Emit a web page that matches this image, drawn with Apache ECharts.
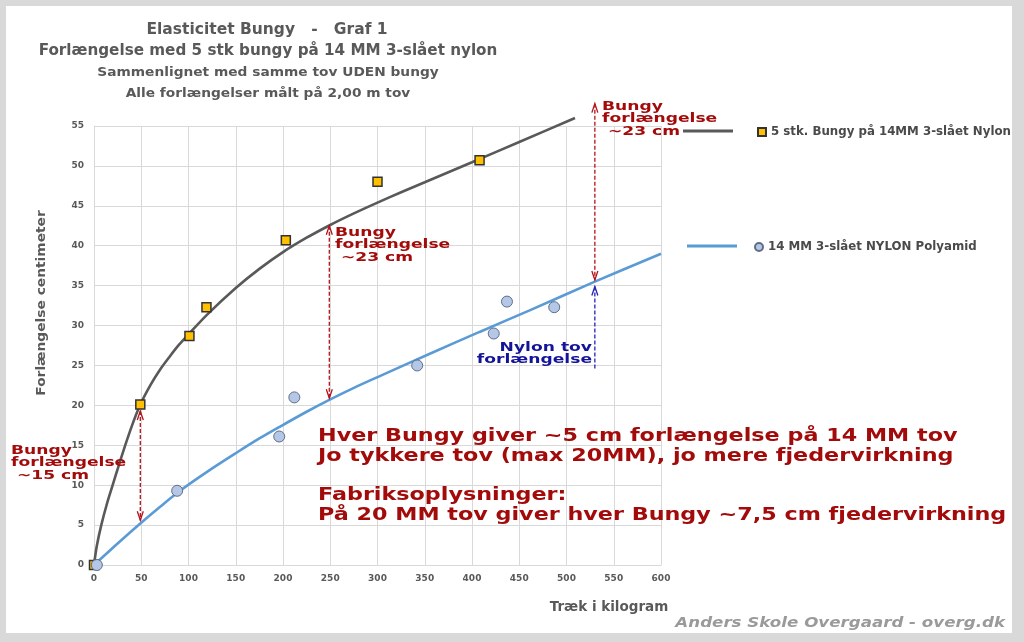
<!DOCTYPE html>
<html>
<head>
<meta charset="utf-8">
<script src="https://cdn.jsdelivr.net/npm/echarts@6/dist/echarts.min.js"></script>
<style>
html,body{margin:0;padding:0;background:#d9d9d9;}
#chart{width:1024px;height:642px;}
</style>
</head>
<body>
<div id="chart"></div>
<script>
// ---- Data ----
const bungyName = '5 stk. Bungy på 14MM 3-slået Nylon';
const nylonName = '14 MM 3-slået NYLON Polyamid';

// measured points [kg, cm]
const bungyPoints = [[0, 0], [49, 20.1], [101, 28.7], [119, 32.3], [203, 40.7], [300, 48.0], [408, 50.7]];
const nylonPoints = [[3, 0], [88, 9.3], [196, 16.1], [212, 21.0], [342, 25.0], [423, 29.0], [437, 33.0], [487, 32.3]];

// trend curves [kg, cm]
const bungyTrend = [[0, 0], [3, 2.4], [7.7, 5], [14, 7.8], [20, 10.1], [26, 12.4], [32.5, 14.8], [40, 17.4], [49, 20.1], [60, 22.6], [70, 24.5], [80, 26.1], [90, 27.6], [100, 28.9], [120, 31.4], [150, 34.7], [175, 37.1], [200, 39.2], [225, 41.0], [250, 42.6], [275, 44.05], [300, 45.4], [325, 46.7], [350, 47.95], [375, 49.2], [400, 50.45], [450, 53.0], [509, 56.0]];
const nylonTrend = [[0, 0], [25, 2.7], [49, 5.2], [70, 7.3], [91, 9.3], [120, 11.7], [150, 14.0], [175, 15.85], [197, 17.35], [225, 19.2], [250, 20.75], [275, 22.2], [303, 23.7], [356, 26.5], [408, 29.2], [461, 31.9], [530, 35.5], [600, 39.0]];

// annotation arrows: [kg, top cm, bottom cm, colour index (0 red, 1 blue), heads (3 both, 1 top only)]
const arrows = [[49, 19.3, 5.6, 0, 3], [249, 42.5, 20.9, 0, 3], [530, 57.8, 35.7, 0, 3], [530, 34.9, 24.4, 1, 1]];

// texts
const titleLines = ['Elasticitet Bungy   -   Graf 1', 'Forlængelse med 5 stk bungy på 14 MM 3-slået nylon', 'Sammenlignet med samme tov UDEN bungy', 'Alle forlængelser målt på 2,00 m tov'];
const noteLines = 'Hver Bungy giver ~5 cm forlængelse på 14 MM tov\nJo tykkere tov (max 20MM), jo mere fjedervirkning\n\nFabriksoplysninger:\nPå 20 MM tov giver hver Bungy ~7,5 cm fjedervirkning';
const label15 = 'Bungy\nforlængelse\n ~15 cm';
const label23 = 'Bungy\nforlængelse\n ~23 cm';
const labelNylon = 'Nylon tov\nforlængelse';
const xTitle = 'Træk i kilogram';
const yTitle = 'Forlængelse centimeter';
const credit = 'Anders Skole Overgaard - overg.dk';

// ---- Chart ----
const chart = echarts.init(document.getElementById('chart'), null, {renderer: 'canvas'});
const DJ = "'DejaVu Sans', sans-serif";
const RED = '#a30b0b';
const BLUE = '#14149a';
const GREY = '#595959';

function txt(text, x, y, opt) {
  return Object.assign({
    type: 'text', x: x, y: y, z: 50,
    style: Object.assign({text: text, fill: GREY, font: 'bold 13px ' + DJ, textAlign: 'left', textVerticalAlign: 'middle'}, opt.style || {})
  }, opt.el || {});
}

const graphics = [
  {type: 'rect', z: -10, shape: {x: 6, y: 6, width: 1006, height: 627}, style: {fill: '#ffffff'}},
  txt(titleLines[0], 267, 30, {style: {font: 'bold 15.5px ' + DJ, textAlign: 'center'}}),
  txt(titleLines[1], 268, 51, {style: {font: 'bold 15.2px ' + DJ, textAlign: 'center'}}),
  txt(titleLines[2], 268, 73, {style: {font: 'bold 12.5px ' + DJ, textAlign: 'center'}, el: {scaleX: 1.1}}),
  txt(titleLines[3], 268, 94, {style: {font: 'bold 12.5px ' + DJ, textAlign: 'center'}, el: {scaleX: 1.1}}),
  txt(xTitle, 609, 607, {style: {font: 'bold 13.5px ' + DJ, textAlign: 'center'}}),
  txt(yTitle, 42, 303, {style: {font: 'bold 13px ' + DJ, textAlign: 'center'}, el: {rotation: Math.PI / 2, scaleX: 1.06}}),
  txt(credit, 1005, 623, {style: {font: 'italic bold 14.5px ' + DJ, textAlign: 'right', fill: '#9a9a9a'}, el: {scaleX: 1.15}}),
  txt(noteLines, 318, 427, {style: {font: 'bold 17px ' + DJ, fill: RED, textVerticalAlign: 'top', lineHeight: 19.7}, el: {scaleX: 1.31}}),
  txt(label15, 11, 444, {style: {font: 'bold 12.5px ' + DJ, fill: RED, textVerticalAlign: 'top', lineHeight: 12.8}, el: {scaleX: 1.37}}),
  txt(label23, 335, 226, {style: {font: 'bold 12.5px ' + DJ, fill: RED, textVerticalAlign: 'top', lineHeight: 12.5}, el: {scaleX: 1.37}}),
  txt(label23, 602, 100, {style: {font: 'bold 12.5px ' + DJ, fill: RED, textVerticalAlign: 'top', lineHeight: 12.6}, el: {scaleX: 1.37}}),
  txt(labelNylon, 592, 341, {style: {font: 'bold 12.5px ' + DJ, fill: BLUE, textAlign: 'right', textVerticalAlign: 'top', lineHeight: 12.6}, el: {scaleX: 1.37}}),
  {type: 'line', z: 50, shape: {x1: 683, y1: 131, x2: 733, y2: 131}, style: {stroke: GREY, lineWidth: 3}},
  {type: 'line', z: 50, shape: {x1: 687, y1: 246, x2: 737, y2: 246}, style: {stroke: '#5b9bd5', lineWidth: 3}}
];

const option = {
  backgroundColor: '#d9d9d9',
  animation: false,
  grid: {left: 94, right: 363, top: 126, bottom: 77, containLabel: false},
  xAxis: {
    type: 'value', min: 0, max: 600, interval: 50,
    axisLine: {show: true, lineStyle: {color: '#d9d9d9', width: 1}},
    axisTick: {show: false},
    splitLine: {show: true, lineStyle: {color: '#d9d9d9', width: 1}},
    axisLabel: {color: GREY, fontFamily: 'DejaVu Sans', fontWeight: 'bold', fontSize: 9, margin: 9}
  },
  yAxis: {
    type: 'value', min: 0, max: 55, interval: 5,
    axisLine: {show: true, lineStyle: {color: '#d9d9d9', width: 1}},
    axisTick: {show: false},
    splitLine: {show: true, lineStyle: {color: '#d9d9d9', width: 1}},
    axisLabel: {color: GREY, fontFamily: 'DejaVu Sans', fontWeight: 'bold', fontSize: 9, margin: 10}
  },
  legend: [
    {data: [bungyName], left: 757, top: 126, padding: 0, icon: 'rect', itemWidth: 8, itemHeight: 8, itemGap: 0,
     textStyle: {color: '#4a4a4a', fontFamily: 'DejaVu Sans', fontWeight: 'bold', fontSize: 11.8}, selectedMode: false},
    {data: [nylonName], left: 754, top: 241, padding: 0, icon: 'circle', itemWidth: 8, itemHeight: 8, itemGap: 0,
     textStyle: {color: '#4a4a4a', fontFamily: 'DejaVu Sans', fontWeight: 'bold', fontSize: 11.8}, selectedMode: false}
  ],
  graphic: graphics,
  series: [
    {name: 'bungyTrend', type: 'line', data: bungyTrend, smooth: 0.3, showSymbol: false, clip: false, silent: true,
     lineStyle: {color: GREY, width: 2.6}, z: 2},
    {name: 'nylonTrend', type: 'line', data: nylonTrend, smooth: 0.3, showSymbol: false, clip: false, silent: true,
     lineStyle: {color: '#5b9bd5', width: 2.6}, z: 2},
    {name: bungyName, type: 'scatter', data: bungyPoints, symbol: 'rect', symbolSize: 9, clip: false, z: 4,
     itemStyle: {color: '#ffc000', borderColor: '#333333', borderWidth: 1.5, opacity: 1}},
    {name: nylonName, type: 'scatter', data: nylonPoints, symbol: 'circle', symbolSize: 11, clip: false, z: 4,
     itemStyle: {color: '#b4c7e7', borderColor: '#5e6e86', borderWidth: 1, opacity: 1}},
    {name: 'arrows', type: 'custom', data: arrows, clip: false, silent: true, z: 5,
     encode: {x: 0, y: [1, 2]},
     renderItem: function (params, api) {
       const x = api.value(0), top = api.value(1), bot = api.value(2), c = api.value(3), heads = api.value(4);
       const p1 = api.coord([x, top]), p2 = api.coord([x, bot]);
       const col = c === 0 ? '#b3131b' : '#2222b8';
       const hw = 3, hl = 9;
       const children = [
         {type: 'line', shape: {x1: p1[0], y1: p1[1], x2: p2[0], y2: p2[1]}, style: {stroke: col, lineWidth: 1.3, lineDash: [4, 2]}},
         {type: 'polyline', shape: {points: [[p1[0] - hw, p1[1] + hl], [p1[0], p1[1]], [p1[0] + hw, p1[1] + hl]]}, style: {stroke: col, lineWidth: 1.3, fill: null}}
       ];
       if (heads === 3) {
         children.push({type: 'polyline', shape: {points: [[p2[0] - hw, p2[1] - hl], [p2[0], p2[1]], [p2[0] + hw, p2[1] - hl]]}, style: {stroke: col, lineWidth: 1.3, fill: null}});
       }
       return {type: 'group', children: children};
     }}
  ]
};
chart.setOption(option);
</script>
</body>
</html>
